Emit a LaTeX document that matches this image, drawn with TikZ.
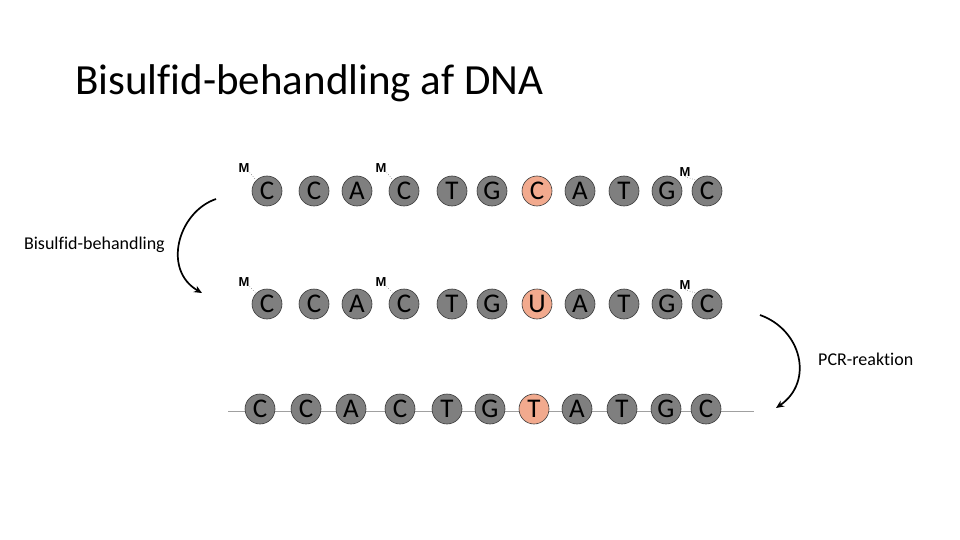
\documentclass[tikz,border=0pt]{standalone}
\usepackage{fontspec}
\setmainfont{Carlito}[Ligatures=NoCommon]
\newfontfamily\mfont{Liberation Sans}
\usetikzlibrary{arrows.meta}
\definecolor{basefill}{HTML}{7F7F7F}
\definecolor{baseedge}{HTML}{3A3A3A}
\definecolor{hifill}{HTML}{F2AA8E}
\definecolor{strand}{HTML}{A0A0A0}
\tikzset{
  base/.style={circle, draw=baseedge, line width=0.6pt, fill=basefill, minimum size=30pt, inner sep=0pt, font=\fontsize{27}{27}\selectfont, text=black},
  hibase/.style={base, fill=hifill},
  mlabel/.style={font=\mfont\bfseries\fontsize{13}{13}\selectfont, inner sep=0pt},
  mlink/.style={draw=black!70, dotted, line width=0.5pt},
  curvearrow/.style={-{Stealth[length=8pt,width=7pt]}, line width=1.7pt},
  lbl/.style={font=\fontsize{18}{18}\selectfont, inner sep=0pt}
}
\begin{document}
\begin{tikzpicture}[x=1pt,y=-1pt]
\useasboundingbox (0,0) rectangle (960,540);
\node[anchor=base west, inner sep=0pt, font=\fontsize{43}{43}\selectfont] (title) at (75,95) {Bisulfid-behandling af DNA};

% row 1
\foreach \n/\x/\l/\s in {1/267/C/base,2/314/C/base,3/357/A/base,4/404/C/base,5/452/T/base,6/492/G/base,7/537/C/hibase,8/580/A/base,9/624/T/base,10/667/G/base,11/707/C/base}
  \node[\s] (a\n) at (\x,191) {\l};
% row 2
\foreach \n/\x/\l/\s in {1/267/C/base,2/314/C/base,3/357/A/base,4/404/C/base,5/452/T/base,6/492/G/base,7/537/U/hibase,8/580/A/base,9/624/T/base,10/667/G/base,11/707/C/base}
  \node[\s] (b\n) at (\x,304) {\l};
% row 3 strand
\coordinate (s0) at (228,411);
\coordinate (s1) at (754,411);
\draw[strand, line width=0.8pt] (s0) -- (s1);
\foreach \n/\x/\l/\s in {1/260/C/base,2/306/C/base,3/351/A/base,4/400/C/base,5/447/T/base,6/490/G/base,7/534/T/hibase,8/577/A/base,9/622/T/base,10/666/G/base,11/706/C/base}
  \node[\s] (c\n) at (\x,409) {\l};

% methyl marks
\node[mlabel] (ma1) at (244,168) {M};
\node[mlabel] (ma4) at (381,168) {M};
\node[mlabel] (ma11) at (685,172) {M};
\node[mlabel] (mb1) at (244,282) {M};
\node[mlabel] (mb4) at (381,282) {M};
\node[mlabel] (mb11) at (685,285) {M};
\draw[mlink] (ma1.south east) -- (a1.north west);
\draw[mlink] (ma4.south east) -- (a4.north west);
\draw[mlink] (ma11.south) -- (a11.north west);
\draw[mlink] (mb1.south east) -- (b1.north west);
\draw[mlink] (mb4.south east) -- (b4.north west);
\draw[mlink] (mb11.south) -- (b11.north west);

% arrows
\coordinate (l0) at (216,199);
\coordinate (l1) at (202,293);
\draw[curvearrow] (l0) .. controls (178,212) and (162,270) .. (l1);
\node[lbl, anchor=base east] (lab1) at (165,249) {Bisulfid-behandling};

\coordinate (r0) at (760,315);
\coordinate (r1) at (776,408);
\draw[curvearrow] (r0) .. controls (802,330) and (814,382) .. (r1);
\node[lbl, anchor=base west] (lab2) at (818,365) {PCR-reaktion};
\end{tikzpicture}
\end{document}
